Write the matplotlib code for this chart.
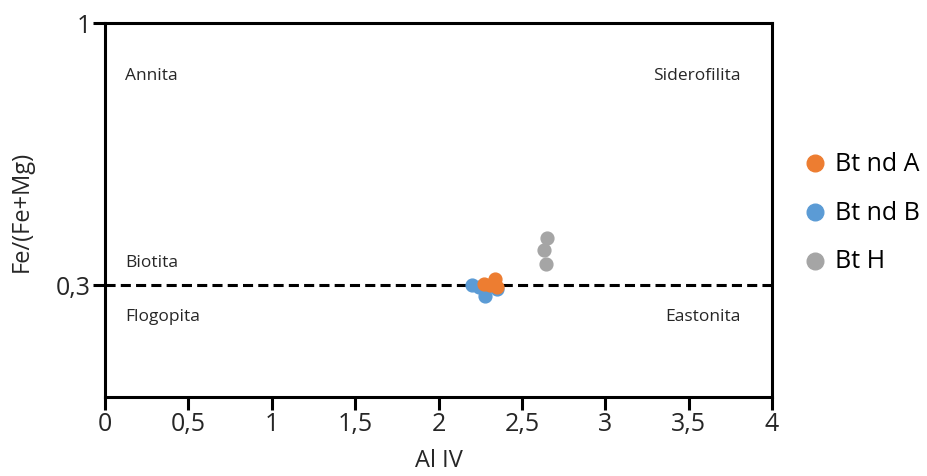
import matplotlib
matplotlib.use('agg')
import matplotlib.pyplot as plt

plt.rcParams['font.family'] = ['Open Sans', 'DejaVu Sans']

# data
bt_a_x = [2.27, 2.34, 2.35, 2.31]
bt_a_y = [0.302, 0.316, 0.294, 0.300]
bt_b_x = [2.20, 2.28, 2.35, 2.24]
bt_b_y = [0.300, 0.270, 0.289, 0.295]
bt_h_x = [2.65, 2.633, 2.645]
bt_h_y = [0.425, 0.393, 0.356]

xticks = [0, 0.5, 1, 1.5, 2, 2.5, 3, 3.5, 4]
xlabels = ['0', '0,5', '1', '1,5', '2', '2,5', '3', '3,5', '4']
yticks = [0.3, 1]
ylabels = ['0,3', '1']

zonas = ['Annita', 'Siderofilita', 'Biotita', 'Flogopita', 'Eastonita']
zonas_x = [0.12, 3.81, 0.12, 0.12, 3.81]
zonas_y = [0.862, 0.862, 0.362, 0.217, 0.217]
zonas_ha = ['left', 'right', 'left', 'left', 'right']

fig = plt.figure(figsize=(9.27, 4.77), dpi=100)
ax = fig.add_axes([0.1133, 0.1656, 0.7195, 0.7841])

ax.axhline(0.3, color='black', lw=2.2, dashes=(3.3, 1.7), zorder=1)

ms = 85
ax.scatter(bt_h_x, bt_h_y, s=ms, color='#A5A5A5', label='Bt H', zorder=3)
ax.scatter(bt_b_x, bt_b_y, s=ms, color='#5B9BD5', label='Bt nd B', zorder=3)
ax.scatter(bt_a_x, bt_a_y, s=ms, color='#ED7D31', label='Bt nd A', zorder=4)

for t, x, y, ha in zip(zonas, zonas_x, zonas_y, zonas_ha):
    ax.text(x, y, t, ha=ha, va='center', fontsize=12.5, color='#262626')

ax.set_xlim(0, 4)
ax.set_ylim(0, 1)
ax.set_xticks(xticks)
ax.set_xticklabels(xlabels)
ax.set_yticks(yticks)
ax.set_yticklabels(ylabels)
ax.tick_params(width=2.2, length=9, labelsize=18, pad=1, colors='black', labelcolor='#262626')
for s in ax.spines.values():
    s.set_linewidth(2.2)
    s.set_color('black')

ax.set_xlabel('Al IV', fontsize=17, color='#262626', labelpad=9)
ax.set_ylabel('Fe/(Fe+Mg)', fontsize=17, color='#262626', labelpad=16)

h, l = ax.get_legend_handles_labels()
order = [2, 1, 0]
fig.legend([h[i] for i in order], [l[i] for i in order], loc='center left',
           bbox_to_anchor=(0.841, 0.553), frameon=False, fontsize=18,
           markerscale=1.3, handlelength=1.0, handletextpad=0.3, labelspacing=0.95)

plt.savefig('out.png', dpi=100)
